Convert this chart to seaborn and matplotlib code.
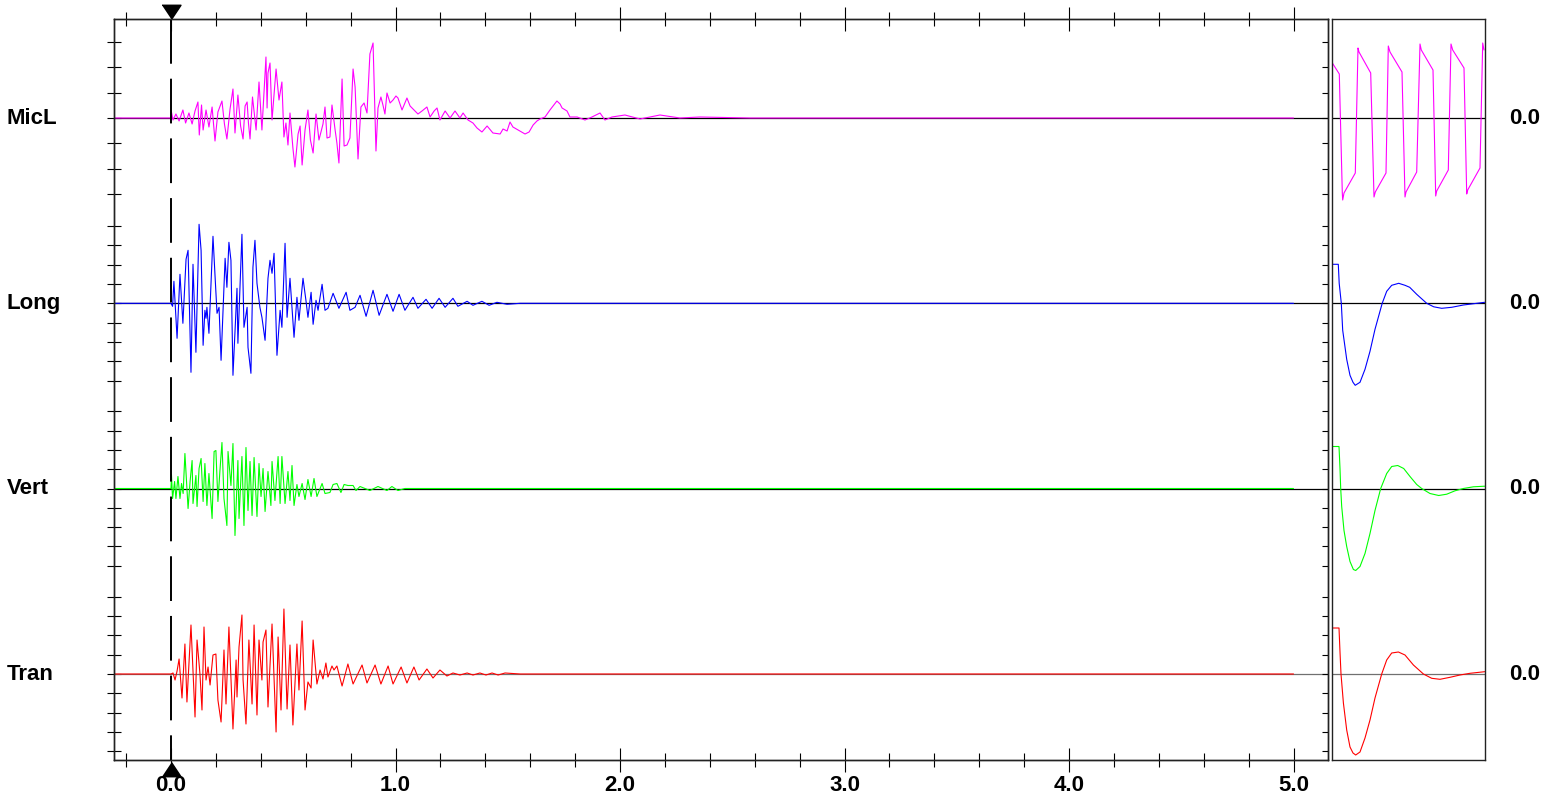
import pandas as pd
import seaborn as sns
import matplotlib.pyplot as plt
import matplotlib.transforms as mtransforms
from matplotlib.ticker import MultipleLocator

# ---- traces (time in s, amplitude in counts above each channel's zero line)
micl_time = [-0.254, 0.000, 0.002, 0.009, 0.022, 0.036, 0.053, 0.065, 0.080, 0.094,
             0.107, 0.120, 0.126, 0.136, 0.143, 0.156, 0.169, 0.183, 0.196, 0.209,
             0.227, 0.238, 0.249, 0.263, 0.276, 0.285, 0.298, 0.310, 0.321, 0.330,
             0.339, 0.345, 0.352, 0.363, 0.379, 0.392, 0.405, 0.423, 0.428, 0.432,
             0.441, 0.450, 0.468, 0.481, 0.494, 0.503, 0.512, 0.521, 0.530, 0.543,
             0.552, 0.566, 0.575, 0.584, 0.597, 0.610, 0.621, 0.633, 0.646, 0.659,
             0.677, 0.686, 0.695, 0.708, 0.717, 0.731, 0.739, 0.748, 0.762, 0.771,
             0.784, 0.797, 0.811, 0.820, 0.833, 0.846, 0.860, 0.873, 0.886, 0.900,
             0.913, 0.922, 0.935, 0.944, 0.953, 0.962, 0.976, 0.989, 1.002, 1.011,
             1.029, 1.051, 1.065, 1.078, 1.100, 1.118, 1.140, 1.154, 1.172, 1.185,
             1.198, 1.221, 1.243, 1.265, 1.287, 1.301, 1.323, 1.345, 1.363, 1.385,
             1.408, 1.434, 1.466, 1.479, 1.497, 1.510, 1.523, 1.546, 1.577, 1.595,
             1.613, 1.630, 1.644, 1.666, 1.688, 1.719, 1.733, 1.742, 1.764, 1.777,
             1.809, 1.844, 1.875, 1.911, 1.933, 1.964, 2.022, 2.089, 2.178, 2.267,
             2.356, 2.579, 5.000]
micl_amp = [0, 0, 6, -2, 4, -3, 8, -5, 5, -6,
            7, 16, -17, 13, -12, 8, -9, 11, -23, 6,
            17, -6, -21, 9, 29, -15, 23, -8, -21, 12,
            16, -5, -21, 21, -12, 36, -12, 61, 10, 45,
            55, -2, 49, 18, 36, -19, -5, -27, 5, -30,
            -49, -16, -8, -47, -12, 8, -22, -35, 4, -22,
            -6, 11, -20, -19, 13, -12, -25, -45, 39, -28,
            -27, -20, 49, 31, -41, 11, 15, 5, 64, 75,
            -33, 10, 21, 13, 4, 25, 15, 18, 22, 20,
            8, 20, 12, 9, 4, 7, 11, 1, 7, 10,
            -2, 7, 0, 7, 0, 5, -2, -5, -10, -14,
            -8, -15, -16, -11, -13, -4, -9, -12, -16, -14,
            -7, -3, -1, 1, 8, 17, 14, 10, 7, 1,
            1, -2, 1, 5, -2, 1, 3, -1, 3, 0,
            1, 0, 0]

long_time = [-0.254, 0.000, 0.007, 0.013, 0.027, 0.040, 0.053, 0.067, 0.076, 0.089,
             0.098, 0.111, 0.125, 0.134, 0.143, 0.151, 0.156, 0.160, 0.169, 0.187,
             0.196, 0.205, 0.214, 0.223, 0.241, 0.249, 0.258, 0.267, 0.276, 0.294,
             0.298, 0.316, 0.325, 0.339, 0.343, 0.356, 0.365, 0.374, 0.383, 0.396,
             0.405, 0.419, 0.432, 0.441, 0.450, 0.459, 0.472, 0.486, 0.494, 0.508,
             0.517, 0.530, 0.548, 0.561, 0.570, 0.588, 0.601, 0.610, 0.624, 0.633,
             0.646, 0.655, 0.673, 0.686, 0.699, 0.722, 0.748, 0.780, 0.797, 0.820,
             0.842, 0.869, 0.900, 0.927, 0.962, 0.989, 1.016, 1.042, 1.078, 1.100,
             1.136, 1.163, 1.194, 1.221, 1.256, 1.278, 1.319, 1.345, 1.385, 1.417,
             1.452, 1.497, 1.555, 5.000]
long_amp = [0, 0, -3, 22, -35, 29, -20, 44, 53, -69,
            39, -49, 79, 53, -42, -7, -15, -4, -30, 67,
            28, -10, -4, -57, 45, 16, 61, 43, -72, 15,
            -40, 69, -24, -4, -44, -70, 36, 63, 20, -4,
            -14, -37, 25, 43, 30, 50, -52, -7, -24, 60,
            -14, 25, -34, 6, -17, 25, 3, -14, 11, -21,
            3, -7, 19, -7, -5, 10, -5, 11, -7, -4,
            8, -13, 13, -12, 9, -8, 9, -7, 6, -5,
            4, -5, 5, -4, 5, -3, 2, -2, 2, -2,
            1, -1, 0, 0]

vert_time = [-0.254, 0.000, 0.002, 0.007, 0.016, 0.022, 0.031, 0.040, 0.047, 0.054,
             0.062, 0.076, 0.085, 0.094, 0.098, 0.111, 0.116, 0.125, 0.134, 0.143,
             0.151, 0.160, 0.169, 0.183, 0.192, 0.200, 0.209, 0.218, 0.227, 0.236,
             0.249, 0.254, 0.267, 0.276, 0.285, 0.298, 0.303, 0.316, 0.325, 0.334,
             0.343, 0.352, 0.361, 0.370, 0.383, 0.392, 0.401, 0.410, 0.419, 0.432,
             0.445, 0.450, 0.463, 0.477, 0.486, 0.494, 0.508, 0.521, 0.530, 0.539,
             0.548, 0.561, 0.570, 0.584, 0.597, 0.610, 0.624, 0.637, 0.650, 0.673,
             0.686, 0.708, 0.722, 0.739, 0.757, 0.771, 0.788, 0.811, 0.824, 0.842,
             0.886, 0.922, 0.962, 0.984, 1.011, 1.042, 5.000]
vert_amp = [0, 0, 14, -10, 7, -10, 12, -10, 5, -5,
            35, -20, 7, 28, -15, 13, -18, 20, 30, -13,
            25, -17, 15, -30, 37, 38, -13, 18, 46, -10,
            -37, 37, 3, 45, -47, 28, -30, 32, -37, 41,
            -22, 27, -27, 31, -28, 25, -8, 20, -23, 17,
            -17, 27, -12, 32, -15, 32, -15, 17, -12, 23,
            -17, 4, -8, 5, -11, 9, -8, 10, -8, 5,
            -5, -4, 4, 5, -4, 4, 3, 3, -2, 2,
            -2, 2, -2, 2, -2, 0, 0]

tran_time = [-0.254, 0.000, 0.009, 0.018, 0.027, 0.036, 0.049, 0.062, 0.071, 0.089,
             0.107, 0.116, 0.129, 0.138, 0.147, 0.156, 0.165, 0.174, 0.187, 0.200,
             0.209, 0.223, 0.236, 0.245, 0.258, 0.276, 0.290, 0.294, 0.303, 0.316,
             0.321, 0.334, 0.347, 0.361, 0.370, 0.383, 0.392, 0.405, 0.410, 0.423,
             0.432, 0.450, 0.468, 0.477, 0.490, 0.503, 0.517, 0.530, 0.543, 0.561,
             0.570, 0.584, 0.597, 0.610, 0.624, 0.633, 0.650, 0.664, 0.677, 0.690,
             0.699, 0.717, 0.726, 0.739, 0.762, 0.788, 0.811, 0.851, 0.873, 0.909,
             0.935, 0.967, 0.989, 1.025, 1.051, 1.082, 1.105, 1.140, 1.167, 1.198,
             1.229, 1.256, 1.287, 1.319, 1.345, 1.376, 1.403, 1.430, 1.457, 1.488,
             1.555, 5.000]
tran_amp = [0, 0, 1, -6, 3, 15, -24, 30, -28, 49,
            -43, 34, 0, -36, 47, -6, 7, -11, 19, 20,
            -26, -48, 24, -30, 47, -55, 14, -23, 27, 59,
            -6, -50, 34, -30, 49, -41, 34, -6, 32, 44,
            -33, 50, -58, 37, -36, 65, -35, 29, -51, 30,
            -16, 53, -36, -8, -14, 34, -10, 4, -5, 11,
            -3, 8, 4, 8, -12, 10, -10, 9, -9, 9,
            -10, 8, -10, 7, -9, 7, -6, 5, -4, 4,
            -2, 1, -1, 1, -1, 1, -1, 1, -1, 1,
            0, 0]

# ---- calibration panel (sample index, amplitude)
cal_micl_x = [0, 7.6, 10.6, 11.0, 12.3, 23.6, 26.3, 27.3, 39.0, 42.3,
              43.6, 54.3, 56.6, 58.3, 70.3, 73.3, 74.3, 85.0, 88.3, 89.6,
              101.3, 104.0, 105.0, 116.6, 119.3, 121.0, 132.3, 135.0, 136.0, 148.3,
              151.0, 152.3]
cal_micl_amp = [56, 44, -75, -82, -75, -55, 70, 66, 45, -79,
                -74, -55, 72, 66, 46, -79, -74, -54, 74, 68,
                48, -78, -73, -52, 74, 68, 50, -76, -72, -50,
                75, 68]
cal_long_x = [0, 6.6, 7.5, 9.6, 11, 15, 18.3, 21.3, 23.5, 28.3,
              33.3, 38.3, 43.3, 50.5, 55, 60, 67, 73.3, 78, 85,
              95, 102, 110, 120, 131.7, 153]
cal_long_amp = [39, 39, 20, 0, -27, -56, -72, -79, -82, -79,
                -66, -48, -26, 0, 12, 18, 20, 18, 16, 9,
                0, -3.5, -5, -4, -1.7, 1]
cal_vert_x = [0, 7.3, 8.3, 9, 10, 12.3, 15, 18.3, 21.7, 24,
              28.3, 33.3, 38.3, 43.3, 49, 55, 60, 66, 72, 78.3,
              85, 90, 98.3, 107, 115, 123.3, 131.7, 141.7, 153]
cal_vert_amp = [42, 42, 20, 0, -18, -42, -58, -73, -81, -82,
                -78, -65, -45, -22, 0, 15, 22, 23, 20, 12,
                4, 0, -5, -7, -5.7, -2.3, 0, 1.7, 2.3]
cal_tran_x = [0, 7.3, 8.3, 9.3, 11.7, 15, 18.3, 21.3, 24, 28.3,
              33.3, 38.3, 43.3, 50, 55, 60, 66.7, 73.3, 81.7, 91.7,
              100, 108.3, 118.3, 128.3, 138.3, 153]
cal_tran_amp = [46, 46, 22, 0, -29, -56, -73, -79, -81, -78,
                -64, -46, -24, 0, 14, 21, 22, 19, 9, 0,
                -4.3, -5.3, -3.3, -1, 0.7, 2.3]

channels = ["MicL", "Long", "Vert", "Tran"]
event_time = 0.0
x_ticks = [0, 1, 2, 3, 4, 5]
x_tick_labels = ["0.0", "1.0", "2.0", "3.0", "4.0", "5.0"]

# ---- styling
palette = {"MicL": "#ff00ff", "Long": "#0000ff", "Vert": "#00ff00", "Tran": "#ff0000"}
zero_color = {"MicL": "black", "Long": "black", "Vert": "black", "Tran": "#707070"}
offset = {"MicL": 642.0, "Long": 456.7, "Vert": 271.5, "Tran": 86.0}
tick_step = {"MicL": 25.3, "Long": 19.3, "Vert": 19.3, "Tran": 19.3}
tick_count = {"MicL": 3, "Long": 4, "Vert": 4, "Tran": 4}

sns.set_style("ticks")
plt.rcParams["font.family"] = ["Liberation Sans", "DejaVu Sans"]

W, H = 1544, 799
fig = plt.figure(figsize=(W / 100, H / 100), dpi=100)
ax = fig.add_axes([114 / W, 1 - 760 / H, (1327.7 - 114) / W, (760 - 19) / H])
ax_cal = fig.add_axes([1331.7 / W, 1 - 760 / H, (1485 - 1331.7) / W, (760 - 19) / H])

main = pd.concat([
    pd.DataFrame({"time": micl_time, "amp": micl_amp, "channel": "MicL"}),
    pd.DataFrame({"time": long_time, "amp": long_amp, "channel": "Long"}),
    pd.DataFrame({"time": vert_time, "amp": vert_amp, "channel": "Vert"}),
    pd.DataFrame({"time": tran_time, "amp": tran_amp, "channel": "Tran"}),
], ignore_index=True)
main["pos"] = main["amp"] + main["channel"].map(offset)

cal = pd.concat([
    pd.DataFrame({"x": cal_micl_x, "amp": cal_micl_amp, "channel": "MicL"}),
    pd.DataFrame({"x": cal_long_x, "amp": cal_long_amp, "channel": "Long"}),
    pd.DataFrame({"x": cal_vert_x, "amp": cal_vert_amp, "channel": "Vert"}),
    pd.DataFrame({"x": cal_tran_x, "amp": cal_tran_amp, "channel": "Tran"}),
], ignore_index=True)
cal["pos"] = cal["amp"] + cal["channel"].map(offset)

for ch in channels:
    ax.axhline(offset[ch], color=zero_color[ch], lw=0.9, zorder=1)
    ax_cal.axhline(offset[ch], color=zero_color[ch], lw=0.9, zorder=1)

sns.lineplot(data=main, x="time", y="pos", hue="channel", palette=palette,
             estimator=None, sort=False, legend=False, lw=0.8, ax=ax, zorder=2)
sns.lineplot(data=cal, x="x", y="pos", hue="channel", palette=palette,
             estimator=None, sort=False, legend=False, lw=0.8, ax=ax_cal, zorder=2)

ax.set_xlim(-0.2539, 5.1523)
ax.set_ylim(0, 741)
ax_cal.set_xlim(0, 153.3)
ax_cal.set_ylim(0, 741)
for a in (ax, ax_cal):
    a.set_xlabel("")
    a.set_ylabel("")

# event marker
ax.plot([event_time, event_time], [1, 0], transform=ax.get_xaxis_transform(),
        color="black", lw=1.4, dashes=(23, 7.7), zorder=4)
ax.plot([event_time], [1.0], transform=ax.get_xaxis_transform(), clip_on=False,
        marker=[(-1, 1.5), (1, 1.5), (0, 0)], ms=20.5, color="black", zorder=5)
ax.plot([event_time], [-0.003], transform=ax.get_xaxis_transform(), clip_on=False,
        marker=[(-1, -1.5), (1, -1.5), (0, 0)], ms=20.5, color="black", zorder=5)

# x axis ticks top and bottom
ax.set_xticks(x_ticks)
ax.set_xticklabels(x_tick_labels, fontsize=16, fontweight="bold")
ax.xaxis.set_minor_locator(MultipleLocator(0.2))
ax.tick_params(axis="x", which="major", direction="inout", length=17, width=0.8,
               top=True, bottom=True, pad=2, colors="black")
ax.tick_params(axis="x", which="minor", direction="inout", length=9.5, width=0.8,
               top=True, bottom=True, colors="black")

# y ticks per channel
y_ticks = [offset[ch] + k * tick_step[ch]
           for ch in channels for k in range(-tick_count[ch], tick_count[ch] + 1)]
ax.set_yticks(y_ticks)
ax.tick_params(axis="y", which="major", direction="inout", length=10, width=0.8,
               left=True, labelleft=False, colors="black")
ax_r = ax.twinx()
ax_r.set_ylim(0, 741)
ax_r.set_yticks(y_ticks)
ax_r.tick_params(axis="y", direction="in", length=4.5, width=0.8,
                 right=True, labelright=False, colors="black")

ax_cal.set_xticks([])
ax_cal.set_yticks([])

for a in (ax, ax_r, ax_cal):
    for s in a.spines.values():
        s.set_linewidth(1.0)
        s.set_color("#222222")
        s.set_visible(True)

# channel names and zero labels
trans = mtransforms.blended_transform_factory(fig.transFigure, ax.transData)
for ch in channels:
    ax.text(7 / W, offset[ch], ch, transform=trans, ha="left", va="center",
            fontsize=16, fontweight="bold", color="black")
    ax.text(1509 / W, offset[ch], "0.0", transform=trans, ha="left", va="center",
            fontsize=16, fontweight="bold", color="black")

fig.savefig("out.png", dpi=100)
